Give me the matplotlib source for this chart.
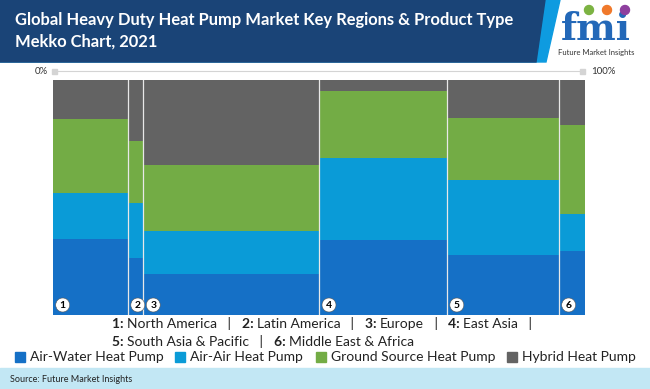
import matplotlib
matplotlib.use('Agg')
import matplotlib.pyplot as plt
from matplotlib.patches import Rectangle, Polygon, Circle
import numpy as np

plt.rcParams['font.family'] = ['Lato', 'DejaVu Sans']

W, H = 650, 389

title_lines = ['Global Heavy Duty Heat Pump Market Key Regions & Product Type', 'Mekko Chart, 2021']
region_nums = ['1', '2', '3', '4', '5', '6']
region_names = ['North America', 'Latin America', 'Europe', 'East Asia',
                'South Asia & Pacific', 'Middle East & Africa']
# share of each region in the market (column widths, %)
region_share = [14.1, 2.9, 33.0, 24.0, 21.0, 5.0]
# product type share inside each region (%), bottom to top
products = ['Air-Water Heat Pump', 'Air-Air Heat Pump', 'Ground Source Heat Pump', 'Hybrid Heat Pump']
air_water = [32.3, 24.3, 17.6, 32.0, 25.5, 27.4]
air_air = [19.7, 23.3, 18.0, 34.8, 31.9, 15.5]
ground = [31.5, 26.6, 28.2, 28.6, 26.5, 38.0]
hybrid = [16.5, 25.8, 36.2, 4.6, 16.1, 19.1]
colors = ['#1570c6', '#0a9bd7', '#73ac45', '#636363']
source = 'Source: Future Market Insights'

fig = plt.figure(figsize=(W / 100, H / 100), dpi=100)

# main mekko
ax = fig.add_axes([52.7 / W, (H - 315) / H, 532.6 / W, 235 / H])
lefts = np.concatenate([[0], np.cumsum(region_share)[:-1]])
bottom = np.zeros(len(region_share))
for vals, col in zip([air_water, air_air, ground, hybrid], colors):
    vals = np.array(vals)
    ax.bar(lefts, vals, width=region_share, bottom=bottom, align='edge', color=col, linewidth=0)
    bottom += vals
for x in lefts[1:]:
    ax.axvline(x, color='#e8e8e8', lw=0.9)
ax.set_xlim(0, 100)
ax.set_ylim(0, 100)
ax.axis('off')

# decoration axes in pixel coords (y down), drawn on top
bg = fig.add_axes([0, 0, 1, 1])
bg.set_zorder(2)
bg.set_xlim(0, W)
bg.set_ylim(H, 0)
bg.axis('off')

bg.add_patch(Polygon([[0, 0], [560, 0], [546, 62], [0, 62]], closed=True, color='#0e9be0', zorder=1))
bg.add_patch(Polygon([[0, 0], [545, 0], [536, 62], [0, 62]], closed=True, color='#1a4477', zorder=2))
for i, line in enumerate(title_lines):
    bg.text(15, 20 + i * 22, line, color='white', fontsize=11.9, fontweight='bold',
            va='center', ha='left', zorder=3)

# logo
bg.text(596, 29, 'fmi', color='#2368b8', fontsize=27, fontweight='bold', family='DejaVu Serif',
        ha='center', va='center', zorder=3)
for cx, c in zip([589, 607, 625], ['#7cb342', '#f0792b', '#8e3f9e']):
    bg.add_patch(Circle((cx, 10), 4.5, color=c, zorder=4))
bg.text(596, 52, 'Future Market Insights', color='#333333', fontsize=5.5, ha='center', va='center')

# top scale line
bg.plot([57, 580], [71, 71], color='#d4d4d4', lw=0.8)
bg.add_patch(Rectangle((52, 68.5), 5, 5, color='#d4d4d4'))
bg.add_patch(Rectangle((580, 68.5), 5, 5, color='#d4d4d4'))
bg.text(48, 71, '0%', fontsize=7, ha='right', va='center', color='#333333')
bg.text(591, 71, '100%', fontsize=7, ha='left', va='center', color='#333333')

# footer
bg.add_patch(Rectangle((0, 368), W, 21, color='#c2e7f4'))
bg.text(10, 379, source, fontsize=6.5, ha='left', va='center', color='#222222')

# numbered circles
for x, n in zip(lefts, region_nums):
    px = 52.7 + x / 100 * 532.6 + 10
    bg.add_patch(Circle((px, 305), 7, facecolor='white', edgecolor='#555555', lw=0.4, zorder=5))
    bg.text(px, 305.5, n, fontsize=7.5, fontweight='bold', ha='center', va='center', zorder=6)

fig.canvas.draw()
renderer = fig.canvas.get_renderer()


def draw_runs(x, y, runs, size):
    # runs: list of (text, weight); advance in pixel coords
    for txt, wt in runs:
        t = bg.text(x, y, txt, fontsize=size, fontweight=wt, ha='left', va='center', color='#222222')
        bb = t.get_window_extent(renderer=renderer)
        x += bb.width
    return x


line1 = []
for i in range(4):
    line1 += [(region_nums[i] + ': ', 'bold'), (region_names[i], 'normal'), ('   |   ', 'normal')]
line2 = []
for i in range(4, 6):
    line2 += [(region_nums[i] + ': ', 'bold'), (region_names[i], 'normal')]
    if i == 4:
        line2 += [('   |   ', 'normal')]
draw_runs(112, 324, line1, 10)
draw_runs(112, 342, line2, 10)

# legend
leg_x = [15, 175, 316, 507]
for lx, lab, col in zip(leg_x, products, colors):
    bg.add_patch(Rectangle((lx, 352), 10, 10, color=col))
    bg.text(lx + 15, 357, lab, fontsize=10, ha='left', va='center', color='#222222')

fig.savefig('out.png', dpi=100)
